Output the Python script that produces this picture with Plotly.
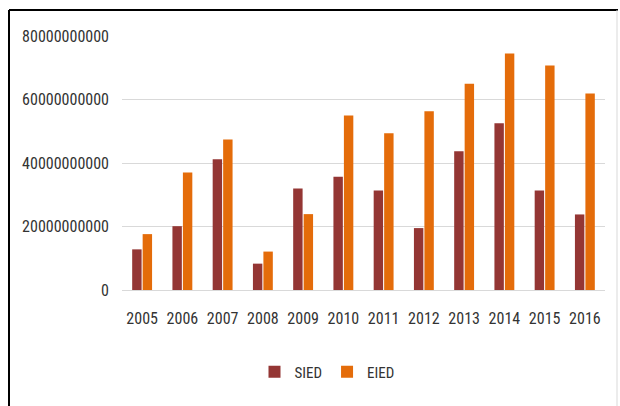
import plotly.graph_objects as go

years = ["2005", "2006", "2007", "2008", "2009", "2010", "2011", "2012", "2013", "2014", "2015", "2016"]
sied = [12.8e9, 20.1e9, 41.2e9, 8.3e9, 32.0e9, 35.7e9, 31.3e9, 19.5e9, 43.7e9, 52.5e9, 31.3e9, 23.8e9]
eied = [17.6e9, 37.0e9, 47.4e9, 12.1e9, 23.9e9, 55.0e9, 49.4e9, 56.3e9, 65.0e9, 74.5e9, 70.7e9, 61.9e9]
y_ticks = [0, 20e9, 40e9, 60e9, 80e9]
y_labels = ["0", "20000000000", "40000000000", "60000000000", "80000000000"]

W, H = 620, 406
L, R, T, B = 122, 15, 36, 116
pw, ph = W - L - R, H - T - B

def px(x):
    return (x - L) / pw

def py(y):
    return (H - B - y) / ph

FONT = "Liberation Sans Narrow, Roboto Condensed, DejaVu Sans Condensed, Roboto, sans-serif"

fig = go.Figure()
fig.add_trace(go.Bar(x=years, y=sied, name="SIED", marker=dict(color="#943634", line=dict(width=0))))
fig.add_trace(go.Bar(x=years, y=eied, name="EIED", marker=dict(color="#E46C0A", line=dict(width=0))))

fig.update_layout(
    width=W, height=H,
    margin=dict(l=L, r=R, t=T, b=B),
    paper_bgcolor="white", plot_bgcolor="white",
    barmode="group", bargap=0.48, bargroupgap=0.1,
    font=dict(family=FONT, size=16, color="#333333"),
    showlegend=True,
    legend=dict(orientation="h", x=px(327), xanchor="center", y=py(372), yanchor="middle",
                font=dict(size=15), itemwidth=30, traceorder="normal"),
    xaxis=dict(showgrid=False, showline=True, linecolor="#d9d9d9", linewidth=1,
               ticks="", ticklabelstandoff=14, tickfont=dict(size=16)),
    yaxis=dict(range=[0, 80e9], tickvals=y_ticks, ticktext=y_labels,
               showgrid=True, gridcolor="#d9d9d9", gridwidth=1, zeroline=False,
               showline=False, ticks="", ticklabelstandoff=12, tickfont=dict(size=16)),
    shapes=[
        dict(type="line", xref="paper", yref="paper", x0=px(9), x1=px(618), y0=py(10), y1=py(10),
             line=dict(color="black", width=2)),
        dict(type="line", xref="paper", yref="paper", x0=px(9), x1=px(9), y0=py(10), y1=py(410),
             line=dict(color="black", width=2)),
        dict(type="line", xref="paper", yref="paper", x0=px(617), x1=px(617), y0=py(10), y1=py(410),
             line=dict(color="#d9d9d9", width=1)),
    ],
)

fig.write_html("out.html")
